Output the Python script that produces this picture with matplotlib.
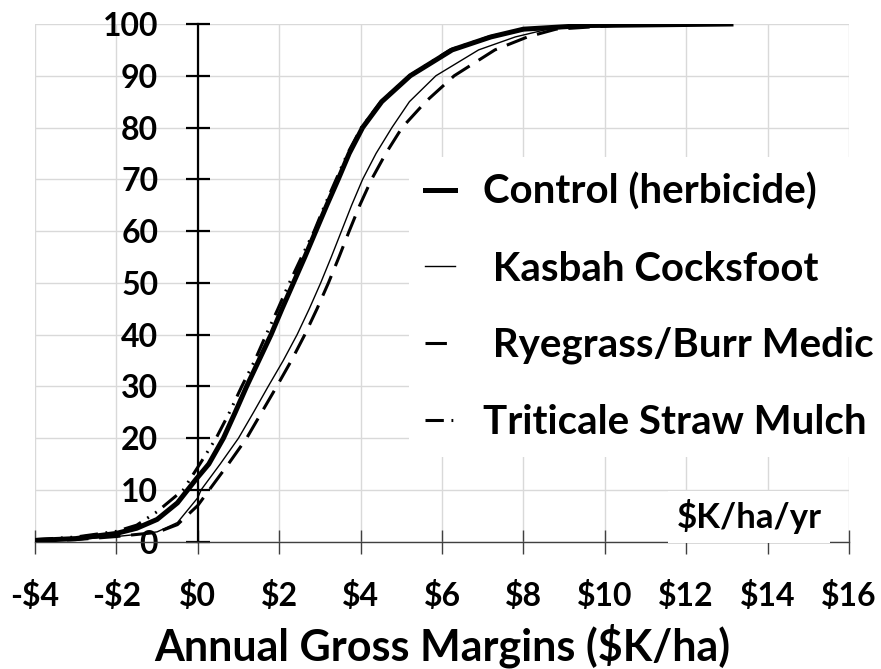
import numpy as np
import matplotlib
matplotlib.use("Agg")
import matplotlib.pyplot as plt

plt.rcParams['font.family'] = ['Lato', 'DejaVu Sans']
plt.rcParams['font.weight'] = 'bold'

# cumulative probability (%) vs annual gross margin ($K/ha)
control_x = [-4, -3, -2, -1.5, -1, -0.5, -0.05, 0.27, 0.63, 0.92, 1.2, 1.5, 1.8, 2.07, 2.35,
             2.63, 2.9, 3.17, 3.45, 3.72, 4.05, 4.52, 5.22, 6.25, 7.2, 8.0, 9.5, 13.1]
control_y = [0.25, 0.6, 1.6, 2.6, 4.3, 7.5, 12, 15, 20, 25, 30, 35, 40, 45, 50,
             55, 60, 65, 70, 75, 80, 85, 90, 95, 97.5, 99, 99.7, 100]

kasbah_x = [-4, -3, -2, -1.5, -1, -0.5, 0.0, 0.08, 0.55, 1.0, 1.37, 1.73, 2.1, 2.44, 2.74, 3.02,
            3.28, 3.53, 3.78, 4.05, 4.38, 4.77, 5.2, 5.85, 6.9, 7.8, 8.6, 10.0, 13.0]
kasbah_y = [0.15, 0.4, 1.0, 1.4, 1.9, 3.7, 8.5, 10, 15, 20, 25, 30, 35, 40, 45, 50,
            55, 60, 65, 70, 75, 80, 85, 90, 95, 97.5, 99, 99.7, 100]

rye_x = [-4, -3, -2, -1.5, -1, -0.5, 0.0, 0.28, 0.75, 1.2, 1.57, 1.94, 2.3, 2.63, 2.93, 3.21,
         3.47, 3.72, 3.98, 4.27, 4.62, 5.02, 5.6, 6.3, 7.3, 8.1, 8.8, 10.2, 12.5]
rye_y = [0.15, 0.4, 1.0, 1.4, 1.8, 3.3, 7.0, 10, 15, 20, 25, 30, 35, 40, 45, 50,
         55, 60, 65, 70, 75, 80, 85, 90, 95, 97.5, 99, 99.7, 100]

trit_x = [-4, -3, -2, -1.5, -1, -0.36, 0.05, 0.45, 0.78, 1.08, 1.4, 1.68, 1.97, 2.25,
          2.55, 2.86, 3.12, 3.4, 3.68, 4.02, 4.5, 5.2, 6.2, 7.15, 8.0, 9.5, 13.2]
trit_y = [0.4, 0.9, 2.0, 3.2, 5.8, 10, 15, 20, 25, 30, 35, 40, 45, 50,
          55, 60, 65, 70, 75, 80, 85, 90, 95, 97.5, 99, 99.7, 100]

x_ticks = list(range(-4, 17, 2))
x_labels = [('-$%d' % -v) if v < 0 else ('$%d' % v) for v in x_ticks]
y_ticks = list(range(0, 101, 10))

fig = plt.figure(figsize=(8.81, 6.69), dpi=100)
ax = fig.add_axes([35 / 881, 1 - 541.7 / 669, 814 / 881, (541.7 - 24) / 669])

ax.plot(control_x, control_y, color='black', lw=3.6, label='Control (herbicide)', zorder=5)
ax.plot(kasbah_x, kasbah_y, color='black', lw=1.0, label=' Kasbah Cocksfoot', zorder=4)
ax.plot(rye_x, rye_y, color='black', lw=2.2, linestyle=(0, (7, 3.5)), label=' Ryegrass/Burr Medic', zorder=4)
ax.plot(trit_x, trit_y, color='black', lw=2.2, linestyle=(0, (6, 2.5, 0.6, 2.5, 0.6, 2.5)),
        label='Triticale Straw Mulch', zorder=4)

ax.set_xlim(-4, 16)
ax.set_ylim(0, 100)
ax.set_xticks(x_ticks)
ax.set_xticklabels(x_labels)
ax.set_yticks(y_ticks)

ax.grid(True, color='#d9d9d9', lw=1.0)
ax.set_axisbelow(True)

for s in ['top', 'right']:
    ax.spines[s].set_visible(False)
ax.spines['left'].set_position(('data', 0))
ax.spines['left'].set_linewidth(1.6)
ax.spines['bottom'].set_linewidth(1.0)
ax.spines['bottom'].set_color('#404040')

ax.tick_params(axis='y', direction='inout', length=17, width=1.6, pad=20, labelsize=23)
ax.tick_params(axis='x', direction='inout', length=17, width=1.0, color='#404040', pad=19.5, labelsize=23)

ax.set_xlabel('Annual Gross Margins ($K/ha)', fontsize=31, fontweight='bold', labelpad=9)

ax.text(13.54, 4.8, '$K/ha/yr', fontsize=25, fontweight='bold', ha='center', va='center',
        bbox=dict(facecolor='white', edgecolor='none', pad=6), zorder=3)

leg = ax.legend(loc='center left', bbox_to_anchor=(409 / 881, 1 - 307 / 669),
                bbox_transform=fig.transFigure, frameon=True, fancybox=False,
                framealpha=1, edgecolor='none', facecolor='white',
                fontsize=29, handlelength=0.75, handletextpad=0.68, labelspacing=0.98,
                borderaxespad=0, borderpad=0.4)
leg.set_zorder(6)

fig.savefig('out.png', dpi=100)
